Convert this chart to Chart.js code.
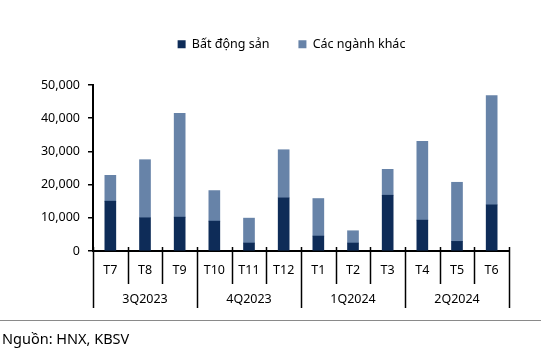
<!DOCTYPE html>
<html>
<head>
<meta charset="utf-8">
<script src="https://cdn.jsdelivr.net/npm/chart.js@4/dist/chart.umd.min.js"></script>
<style>
    html, body { margin: 0; padding: 0; background: #fff; }
    #wrap { position: relative; width: 541px; height: 361px; }
    #note {
        position: absolute; left: 0; top: 320px; width: 541px;
        border-top: 1px solid #8a8a8a;
        font: 14.5px "Noto Sans", sans-serif; color: #000;
        line-height: 20px; padding: 7px 0 0 2px; box-sizing: border-box;
    }
</style>
</head>
<body>
<div id="wrap">
    <canvas id="chart" width="541" height="361"></canvas>
    <div id="note">Nguồn: HNX, KBSV</div>
</div>
<script>
const months = ["T7", "T8", "T9", "T10", "T11", "T12", "T1", "T2", "T3", "T4", "T5", "T6"]
const quarters = ["3Q2023", "4Q2023", "1Q2024", "2Q2024"]
const monthsPerQuarter = 3
const realEstate = [15000, 10000, 10200, 9000, 2400, 16000, 4500, 2400, 16800, 9300, 2900, 13900]
const otherSectors = [7800, 17500, 31300, 9200, 7500, 14500, 11300, 3700, 7800, 23700, 17800, 32900]

const FONT = "Noto Sans"

// month separators + quarter row under the x axis
const groupAxis = {
    id: "groupAxis",
    afterDraw(chart) {
        const ctx = chart.ctx
        const x = chart.scales.x
        const bottom = chart.chartArea.bottom
        ctx.save()
        ctx.strokeStyle = "#000"
        ctx.lineWidth = 1.5
        for (let i = 0; i <= months.length; i++) {
            const px = Math.round(x.getPixelForValue(i - 0.5)) + 0.5
            const isQuarter = i % monthsPerQuarter === 0
            ctx.beginPath()
            ctx.moveTo(px, bottom - 4)
            ctx.lineTo(px, bottom + (isQuarter ? 57 : 33))
            ctx.stroke()
        }
        ctx.fillStyle = "#000"
        ctx.font = "12.5px '" + FONT + "'"
        ctx.textAlign = "center"
        ctx.textBaseline = "middle"
        quarters.forEach((q, i) => {
            const start = x.getPixelForValue(i * monthsPerQuarter - 0.5)
            const end = x.getPixelForValue((i + 1) * monthsPerQuarter - 0.5)
            ctx.fillText(q, (start + end) / 2, bottom + 48)
        })
        ctx.restore()
    }
}

// fixed legend height and a small shift to the right
const legendPlace = {
    id: "legendPlace",
    beforeInit(chart) {
        const fit = chart.legend.fit
        chart.legend.fit = function () {
            fit.bind(chart.legend)()
            this.height = 76
        }
    },
    afterLayout(chart) {
        chart.legend.left += 37
        chart.legend.right += 37
    }
}

new Chart(document.getElementById("chart"), {
    type: "bar",
    data: {
        labels: months,
        datasets: [{
            label: "Bất động sản",
            data: realEstate,
            backgroundColor: "#0e2c58",
            borderWidth: 0,
            barThickness: 11
        }, {
            label: "Các ngành khác",
            data: otherSectors,
            backgroundColor: "#6783a8",
            borderWidth: 0,
            barThickness: 11
        }]
    },
    options: {
        responsive: false,
        animation: false,
        layout: { padding: { top: 9, left: 0, right: 32, bottom: 0 } },
        plugins: {
            tooltip: { enabled: false },
            legend: {
                position: "top",
                labels: {
                    boxWidth: 8,
                    boxHeight: 8,
                    padding: 29,
                    color: "#000",
                    font: { family: FONT, size: 12.5 }
                }
            }
        },
        scales: {
            x: {
                stacked: true,
                afterFit: scale => { scale.height = 110 },
                grid: { display: true, drawOnChartArea: false, drawTicks: false },
                border: { display: true, color: "#000", width: 2 },
                ticks: { color: "#000", padding: 12, maxRotation: 0, font: { family: FONT, size: 12.5 } }
            },
            y: {
                stacked: true,
                min: 0,
                max: 50000,
                afterFit: scale => { scale.width = 93 },
                grid: { drawOnChartArea: false, drawTicks: true, tickLength: 5, color: "#000", lineWidth: 1.5 },
                border: { display: true, color: "#000", width: 2 },
                ticks: {
                    stepSize: 10000,
                    padding: 8,
                    color: "#000",
                    font: { family: FONT, size: 12.5 },
                    callback: v => v.toLocaleString("en-US")
                }
            }
        }
    },
    plugins: [groupAxis, legendPlace]
})
</script>
</body>
</html>
